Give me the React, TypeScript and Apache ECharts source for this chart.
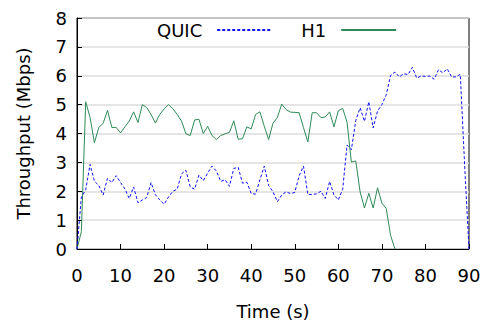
import React, { useEffect, useRef } from "react";
import * as echarts from "echarts";

// Throughput samples, one per second starting at t = 0 s
const quicValues: number[] = [
  0, 1.8, 2.05, 2.93, 2.35, 2.2, 1.87, 2.45, 2.3, 2.54,
  2.3, 2.08, 1.75, 2.15, 1.6, 1.7, 1.78, 2.3, 1.88, 1.7,
  1.55, 1.8, 2.0, 2.07, 2.6, 2.73, 2.15, 2.07, 2.56, 2.37,
  2.63, 2.87, 2.7, 2.34, 2.4, 2.17, 2.79, 2.83, 2.28, 2.31,
  1.92, 1.9, 2.4, 2.87, 2.2, 1.98, 1.64, 1.87, 1.98, 1.92,
  1.96, 2.54, 2.87, 1.89, 1.89, 1.91, 2.0, 1.75, 2.34, 1.87,
  1.7, 2.07, 3.6, 3.44, 4.45, 4.89, 4.42, 5.1, 4.19, 4.78,
  5.0, 5.34, 6.01, 6.13, 5.96, 6.07, 6.04, 6.29, 5.92, 5.99,
  5.98, 5.99, 5.88, 6.21, 6.1, 6.24, 5.96, 5.96, 6.05, 2.9,
  0,
];

const h1Values: number[] = [
  0, 0.6, 5.1, 4.55, 3.68, 4.21, 4.35, 4.8, 4.21, 4.21,
  4.02, 4.23, 4.43, 4.75, 4.38, 5.0, 4.9, 4.66, 4.36, 4.66,
  4.85, 5.0, 4.86, 4.66, 4.43, 3.99, 3.93, 4.47, 4.49, 4.0,
  4.25, 3.93, 3.79, 3.93, 3.99, 4.04, 4.44, 3.8, 3.82, 4.23,
  4.16, 4.66, 4.75, 4.25, 3.79, 4.36, 4.55, 5.02, 4.83, 4.74,
  4.73, 4.72, 4.2, 3.71, 4.72, 4.72, 4.55, 4.57, 4.75, 4.23,
  4.79, 4.87, 4.39, 3.01, 3.05, 1.98, 1.42, 1.93, 1.42, 2.12,
  1.59, 1.4, 0.47, 0,
];

const seriesNames: string[] = ["QUIC", "H1"];
const xAxisTitle = "Time (s)";
const yAxisTitle = "Throughput (Mbps)";

const FONT = "DejaVu Sans";

export default function App() {
  const ref = useRef<HTMLDivElement>(null);

  useEffect(() => {
    if (!ref.current) return;
    const chart = echarts.init(ref.current, null, { renderer: "svg" });
    const toPairs = (arr: number[]) => arr.map((v, i) => [i, v]);

    chart.setOption({
      animation: false,
      backgroundColor: "#ffffff",
      textStyle: { fontFamily: FONT },
      grid: {
        left: 77,
        right: 16,
        top: 18,
        bottom: 69,
        show: true,
        borderColor: "#000",
        borderWidth: 1,
        containLabel: false,
      },
      legend: {
        left: 157,
        top: 21,
        padding: 0,
        align: "right",
        itemWidth: 55,
        itemHeight: 12,
        itemGap: 28,
        itemStyle: { color: "transparent", borderColor: "transparent", borderWidth: 0, opacity: 0 },
        textStyle: {
          fontFamily: FONT,
          fontSize: 18,
          color: "#000",
          padding: [0, 10, 0, 0],
        },
        data: seriesNames,
      },
      xAxis: {
        type: "value",
        min: 0,
        max: 90,
        interval: 10,
        name: xAxisTitle,
        nameLocation: "middle",
        nameGap: 53,
        nameTextStyle: { fontFamily: FONT, fontSize: 18, color: "#000" },
        axisLine: { show: true, lineStyle: { color: "#000", width: 1 } },
        axisTick: { show: true, inside: true, length: 5, lineStyle: { color: "#000" } },
        axisLabel: { fontFamily: FONT, fontSize: 18, color: "#000", margin: 17 },
        splitLine: { show: false },
      },
      yAxis: {
        type: "value",
        min: 0,
        max: 8,
        interval: 1,
        name: yAxisTitle,
        nameLocation: "middle",
        nameGap: 45,
        nameTextStyle: { fontFamily: FONT, fontSize: 18, color: "#000" },
        axisLine: { show: true, lineStyle: { color: "#000", width: 1 } },
        axisTick: { show: true, inside: true, length: 5, lineStyle: { color: "#000" } },
        axisLabel: { fontFamily: FONT, fontSize: 18, color: "#000", margin: 10 },
        splitLine: { show: true, lineStyle: { color: "#dcdcdc", width: 1.5 } },
      },
      series: [
        {
          name: seriesNames[0],
          type: "line",
          data: toPairs(quicValues),
          symbol: "none",
          showSymbol: false,
          lineStyle: { color: "#1010ff", width: 1, type: [3, 2] },
          itemStyle: { color: "#1010ff" },
          z: 3,
        },
        {
          name: seriesNames[1],
          type: "line",
          data: toPairs(h1Values),
          symbol: "none",
          showSymbol: false,
          lineStyle: { color: "#2e8b57", width: 1 },
          itemStyle: { color: "#2e8b57" },
          z: 2,
        },
      ],
    });

    return () => chart.dispose();
  }, []);

  return <div ref={ref} style={{ width: 485, height: 325, position: "absolute", left: 0, top: 0 }} />;
}
